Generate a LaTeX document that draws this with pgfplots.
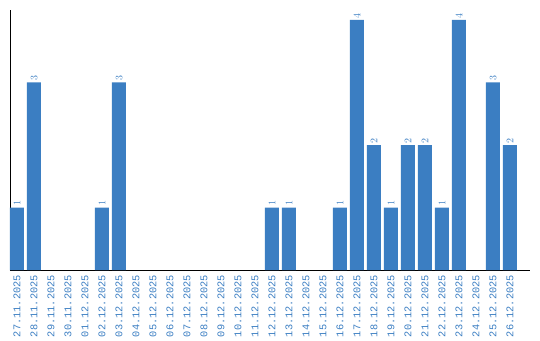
\documentclass[border=0pt]{standalone}
\usepackage{pgfplots}
\pgfplotsset{compat=1.18}
\usepackage{fontspec}
\newfontfamily\monof{Liberation Mono}
\definecolor{barblue}{RGB}{59,126,194}
\begin{document}
\begin{tikzpicture}
\begin{axis}[
  scale only axis,
  width=520pt, height=260pt,
  xmin=-0.41, xmax=30.18,
  ymin=0, ymax=4.16,
  axis x line*=bottom, axis y line*=left,
  axis line style={black, line width=0.8pt, -},
  ytick=\empty,
  xtick={0,...,29},
  major tick length=0pt,
  xticklabels={27.11.2025,28.11.2025,29.11.2025,30.11.2025,01.12.2025,02.12.2025,03.12.2025,04.12.2025,05.12.2025,06.12.2025,07.12.2025,08.12.2025,09.12.2025,10.12.2025,11.12.2025,12.12.2025,13.12.2025,14.12.2025,15.12.2025,16.12.2025,17.12.2025,18.12.2025,19.12.2025,20.12.2025,21.12.2025,22.12.2025,23.12.2025,24.12.2025,25.12.2025,26.12.2025},
  xticklabel style={yshift=-5pt, rotate=90, anchor=east, font=\monof\fontsize{10.3}{10.3}\selectfont, text=barblue, inner sep=0pt, text height=6.6pt, text depth=0pt},
  ybar, bar width=14pt,
  nodes near coords,
  nodes near coords style={rotate=90, anchor=west, font=\monof\fontsize{10.3}{10.3}\selectfont, text=barblue, inner sep=1.5pt, text height=6.6pt, text depth=0pt},
  clip=false,
]
\addplot[fill=barblue, draw=none] coordinates {
(0,1) (1,3) (5,1) (6,3) (15,1) (16,1) (19,1) (20,4) (21,2) (22,1) (23,2) (24,2) (25,1) (26,4) (28,3) (29,2)
};
\end{axis}
\pgfresetboundingbox
\path[use as bounding box] ([shift={(-10pt,-70pt)}]current axis.south west) rectangle ([shift={(10pt,10pt)}]current axis.north east);
\end{tikzpicture}
\end{document}
